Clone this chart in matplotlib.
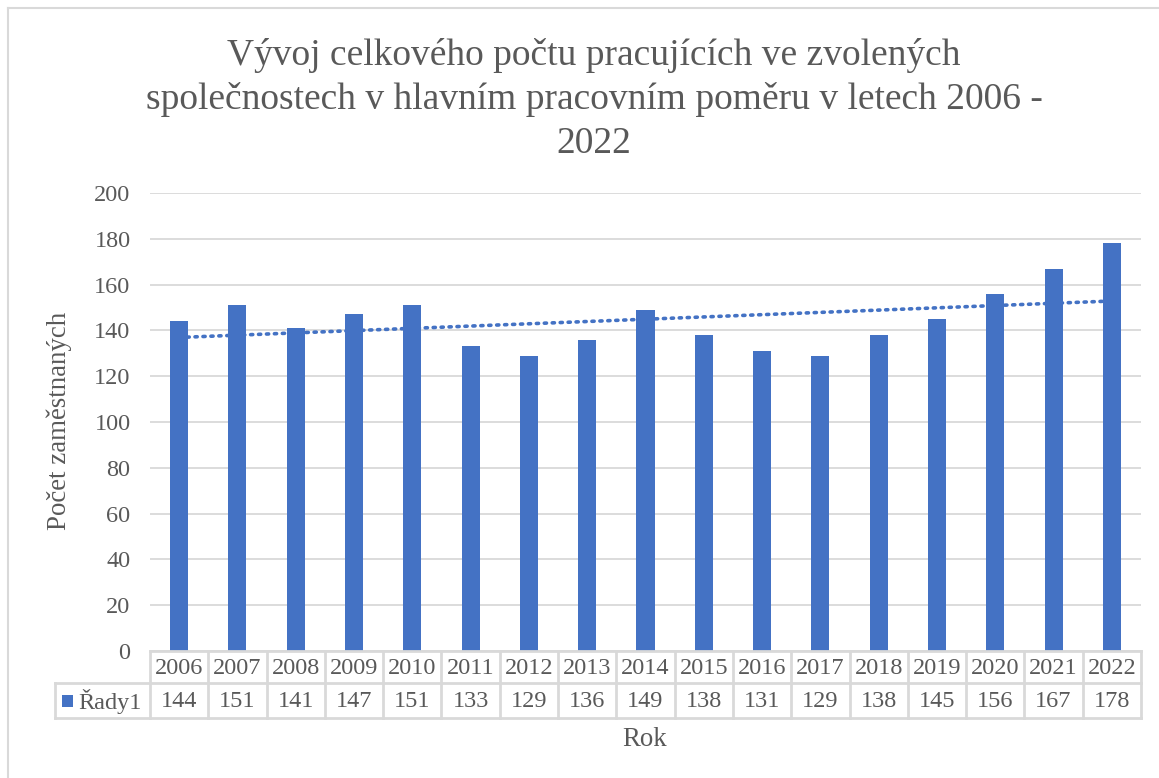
import numpy as np
import matplotlib
matplotlib.use("Agg")
import matplotlib.pyplot as plt
from matplotlib.lines import Line2D
from matplotlib.patches import Rectangle

years = ["2006", "2007", "2008", "2009", "2010", "2011", "2012", "2013", "2014",
         "2015", "2016", "2017", "2018", "2019", "2020", "2021", "2022"]
values = [144, 151, 141, 147, 151, 133, 129, 136, 149, 138, 131, 129, 138, 145, 156, 167, 178]
series_name = "Řady1"
title_lines = ["Vývoj celkového počtu pracujících ve zvolených",
               "společnostech v hlavním pracovním poměru v letech 2006 -",
               "2022"]
ylabel = "Počet zaměstnaných"
xlabel = "Rok"
yticks = [0, 20, 40, 60, 80, 100, 120, 140, 160, 180, 200]

BLUE = "#4472C4"
GRAY = "#595959"
GRID = "#d9d9d9"
plt.rcParams['font.family'] = ['Liberation Serif', 'DejaVu Serif']

W, H = 1159, 778
fig = plt.figure(figsize=(W / 100, H / 100), dpi=100)

def fx(px):
    return px / W

def fy(py):
    return 1 - py / H

# chart border
fig.add_artist(Line2D([fx(8), fx(8)], [fy(8), fy(790)], color=GRID, lw=1.5))
fig.add_artist(Line2D([fx(8), fx(1170)], [fy(8), fy(8)], color=GRID, lw=1.5))

left, right, top, bottom = 150, 1141, 193, 651
ax = fig.add_axes([fx(left), fy(bottom), fx(right) - fx(left), fy(top) - fy(bottom)])
x = np.arange(len(years))
ax.bar(x, values, width=0.31, color=BLUE, zorder=3)

# linear trendline
coef = np.polyfit(x, values, 1)
ax.plot(x, np.polyval(coef, x), linestyle=(0, (0.6, 1.6)), color=BLUE, lw=2.6,
        dash_capstyle='round', zorder=4)

FS = 17.5
ax.set_xlim(-0.5, len(years) - 0.5)
ax.set_ylim(0, 200)
ax.set_yticks(yticks)
ax.set_yticklabels([str(t) for t in yticks], fontsize=FS, color=GRAY)
ax.tick_params(axis='y', length=0, pad=14)
ax.set_xticks([])
ax.grid(axis='y', color=GRID, lw=1.3, zorder=0)
for s in ax.spines.values():
    s.set_visible(False)

# data table
axpx = right - left
aypx = bottom - top
def ay(py):
    return -(py - bottom) / aypx
def axx(px):
    return (px - left) / axpx

tkw = dict(color=GRID, lw=2, transform=ax.transAxes, clip_on=False, zorder=5)
r1, r2 = 683, 718
ax.add_line(Line2D([0, 1], [0, 0], **tkw))
ax.add_line(Line2D([axx(55), 1], [ay(r1), ay(r1)], **tkw))
ax.add_line(Line2D([axx(55), 1], [ay(r2), ay(r2)], **tkw))
ax.add_line(Line2D([axx(55), axx(55)], [ay(r1), ay(r2)], **tkw))
n = len(years)
for i in range(n + 1):
    xa = i / n
    ax.add_line(Line2D([xa, xa], [0, ay(r2)], **tkw))
for i, (yr, v) in enumerate(zip(years, values)):
    xc = (i + 0.5) / n
    ax.text(xc, ay((bottom + r1) / 2 + 1), yr, transform=ax.transAxes, ha='center', va='center',
            fontsize=FS, color=GRAY, clip_on=False)
    ax.text(xc, ay((r1 + r2) / 2 + 1), str(v), transform=ax.transAxes, ha='center', va='center',
            fontsize=FS, color=GRAY, clip_on=False)
# legend key
fig.add_artist(Rectangle((fx(62), fy(707)), fx(73) - fx(62), fy(695) - fy(707),
                         facecolor=BLUE, edgecolor='none'))
fig.text(fx(78), fy((r1 + r2) / 2 + 1), series_name, ha='left', va='center',
         fontsize=FS, color=GRAY)

# axis titles
fig.text(fx(59), fy(421), ylabel, rotation=90, ha='center', va='center', fontsize=19.4, color=GRAY)
fig.text(fx(645), fy(740), xlabel, ha='center', va='center', fontsize=19.4, color=GRAY)

# title
for k, line in enumerate(title_lines):
    fig.text(fx(594), fy(65 + 44 * k), line, ha='center', va='baseline', fontsize=27, color=GRAY)

fig.savefig("out.png", dpi=100, facecolor='white')
